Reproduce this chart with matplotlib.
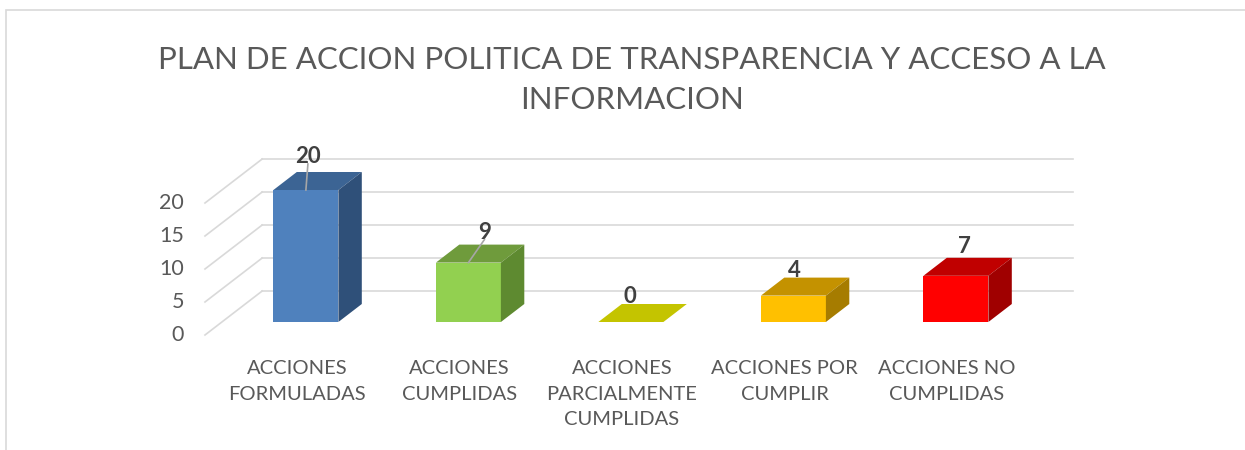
import numpy as np
import matplotlib
matplotlib.use("Agg")
import matplotlib.pyplot as plt
from matplotlib.patches import Polygon, Rectangle

# ==========================================
# DATA
# ==========================================
categories = [
    "ACCIONES\nFORMULADAS",
    "ACCIONES\nCUMPLIDAS",
    "ACCIONES\nPARCIALMENTE\nCUMPLIDAS",
    "ACCIONES POR\nCUMPLIR",
    "ACCIONES NO\nCUMPLIDAS",
]
values = [20, 9, 0, 4, 7]
yticks = [0, 5, 10, 15, 20]
title = "PLAN DE ACCION POLITICA DE TRANSPARENCIA Y ACCESO A LA\nINFORMACION"

# ==========================================
# STYLE
# ==========================================
FRONT = ["#4F81BD", "#92D050", "#FFFF00", "#FFC000", "#FF0000"]
TOP = ["#3C6494", "#6F9B3C", "#C4C400", "#C49200", "#C00000"]
SIDE = ["#2F5079", "#5E8A30", "#A6A600", "#A67C00", "#A00000"]
TEXT = "#595959"
GRID = "#D9D9D9"
FONT = "Lato"

W, H = 1245, 450
SX = 162.5        # px per category
SY = 6.6          # px per value unit
X0, Y0 = 289, 335 # px of category 0 / value 0 on the floor front
SLANT = 1.3       # horizontal px per depth px
Z_BAR0, Z_BAR1, Z_WALL = 13, 31, 44
BAR_W = 0.40
XL, XR = -0.517, 4.47

LABEL_DX = [2, 16, -1, 1, 9]   # label nudges in px
LABEL_DY = [9, 6, 1, 1, 5]
LEADER = [True, True, False, False, False]


def depth(z):
    return SLANT * z / SX, z / SY


fig = plt.figure(figsize=(W / 100, H / 100), dpi=100)
ax = fig.add_axes([0, 0, 1, 1])
ax.set_xlim(-X0 / SX, (W - X0) / SX)
ax.set_ylim(-(H - Y0) / SY, Y0 / SY)
ax.axis("off")

# chart border
fig.patches.append(Rectangle((6 / W, -0.1), 1.2, (H - 10) / H + 0.1,
                             transform=fig.transFigure, fill=False,
                             edgecolor=GRID, linewidth=1.2))

# walls: left diagonals + back horizontal lines
wx, wy = depth(Z_WALL)
for v in yticks:
    ax.plot([XL, XL + wx], [v, v + wy], color=GRID, lw=1.2, zorder=1)
    ax.plot([XL + wx, XR + wx], [v + wy, v + wy], color=GRID, lw=1.2, zorder=1)
    ax.text(XL - 21 / SX, v, str(v), ha="right", va="center", fontsize=15.5,
            color=TEXT, family=FONT)

# bars
fx, fy = depth(Z_BAR0)
bx, by = depth(Z_BAR1)
dx, dy = bx - fx, by - fy
xs = np.arange(len(values)) + fx
ax.bar(xs, values, width=BAR_W, bottom=fy, color=FRONT, linewidth=0, zorder=3)
for i, v in enumerate(values):
    l, r = xs[i] - BAR_W / 2, xs[i] + BAR_W / 2
    top = fy + v
    ax.add_patch(Polygon([(l, top), (r, top), (r + dx, top + dy), (l + dx, top + dy)],
                         closed=True, facecolor=TOP[i], linewidth=0, zorder=3))
    if v > 0:
        ax.add_patch(Polygon([(r, fy), (r + dx, fy + dy), (r + dx, top + dy), (r, top)],
                             closed=True, facecolor=SIDE[i], linewidth=0, zorder=3))
    lx = xs[i] + LABEL_DX[i] / SX
    ly = top + dy + LABEL_DY[i] / SY
    ax.text(lx, ly, str(v), ha="center", va="baseline", fontsize=16,
            fontweight="bold", color="#404040", family=FONT, zorder=5)
    if LEADER[i]:
        ax.plot([xs[i], lx], [top, ly - 1 / SY], color="#A6A6A6", lw=1.2, zorder=4)

# category labels
for i, c in enumerate(categories):
    ax.text(i + 8 / SX, -25 / SY, c, ha="center", va="top", fontsize=14.5,
            color=TEXT, family=FONT, linespacing=1.62)

fig.text(632 / W, 1 - 80 / H, title, ha="center", va="center", fontsize=22.5,
         color=TEXT, family=FONT, linespacing=1.55)

fig.savefig("out.png", dpi=100)
plt.close(fig)
